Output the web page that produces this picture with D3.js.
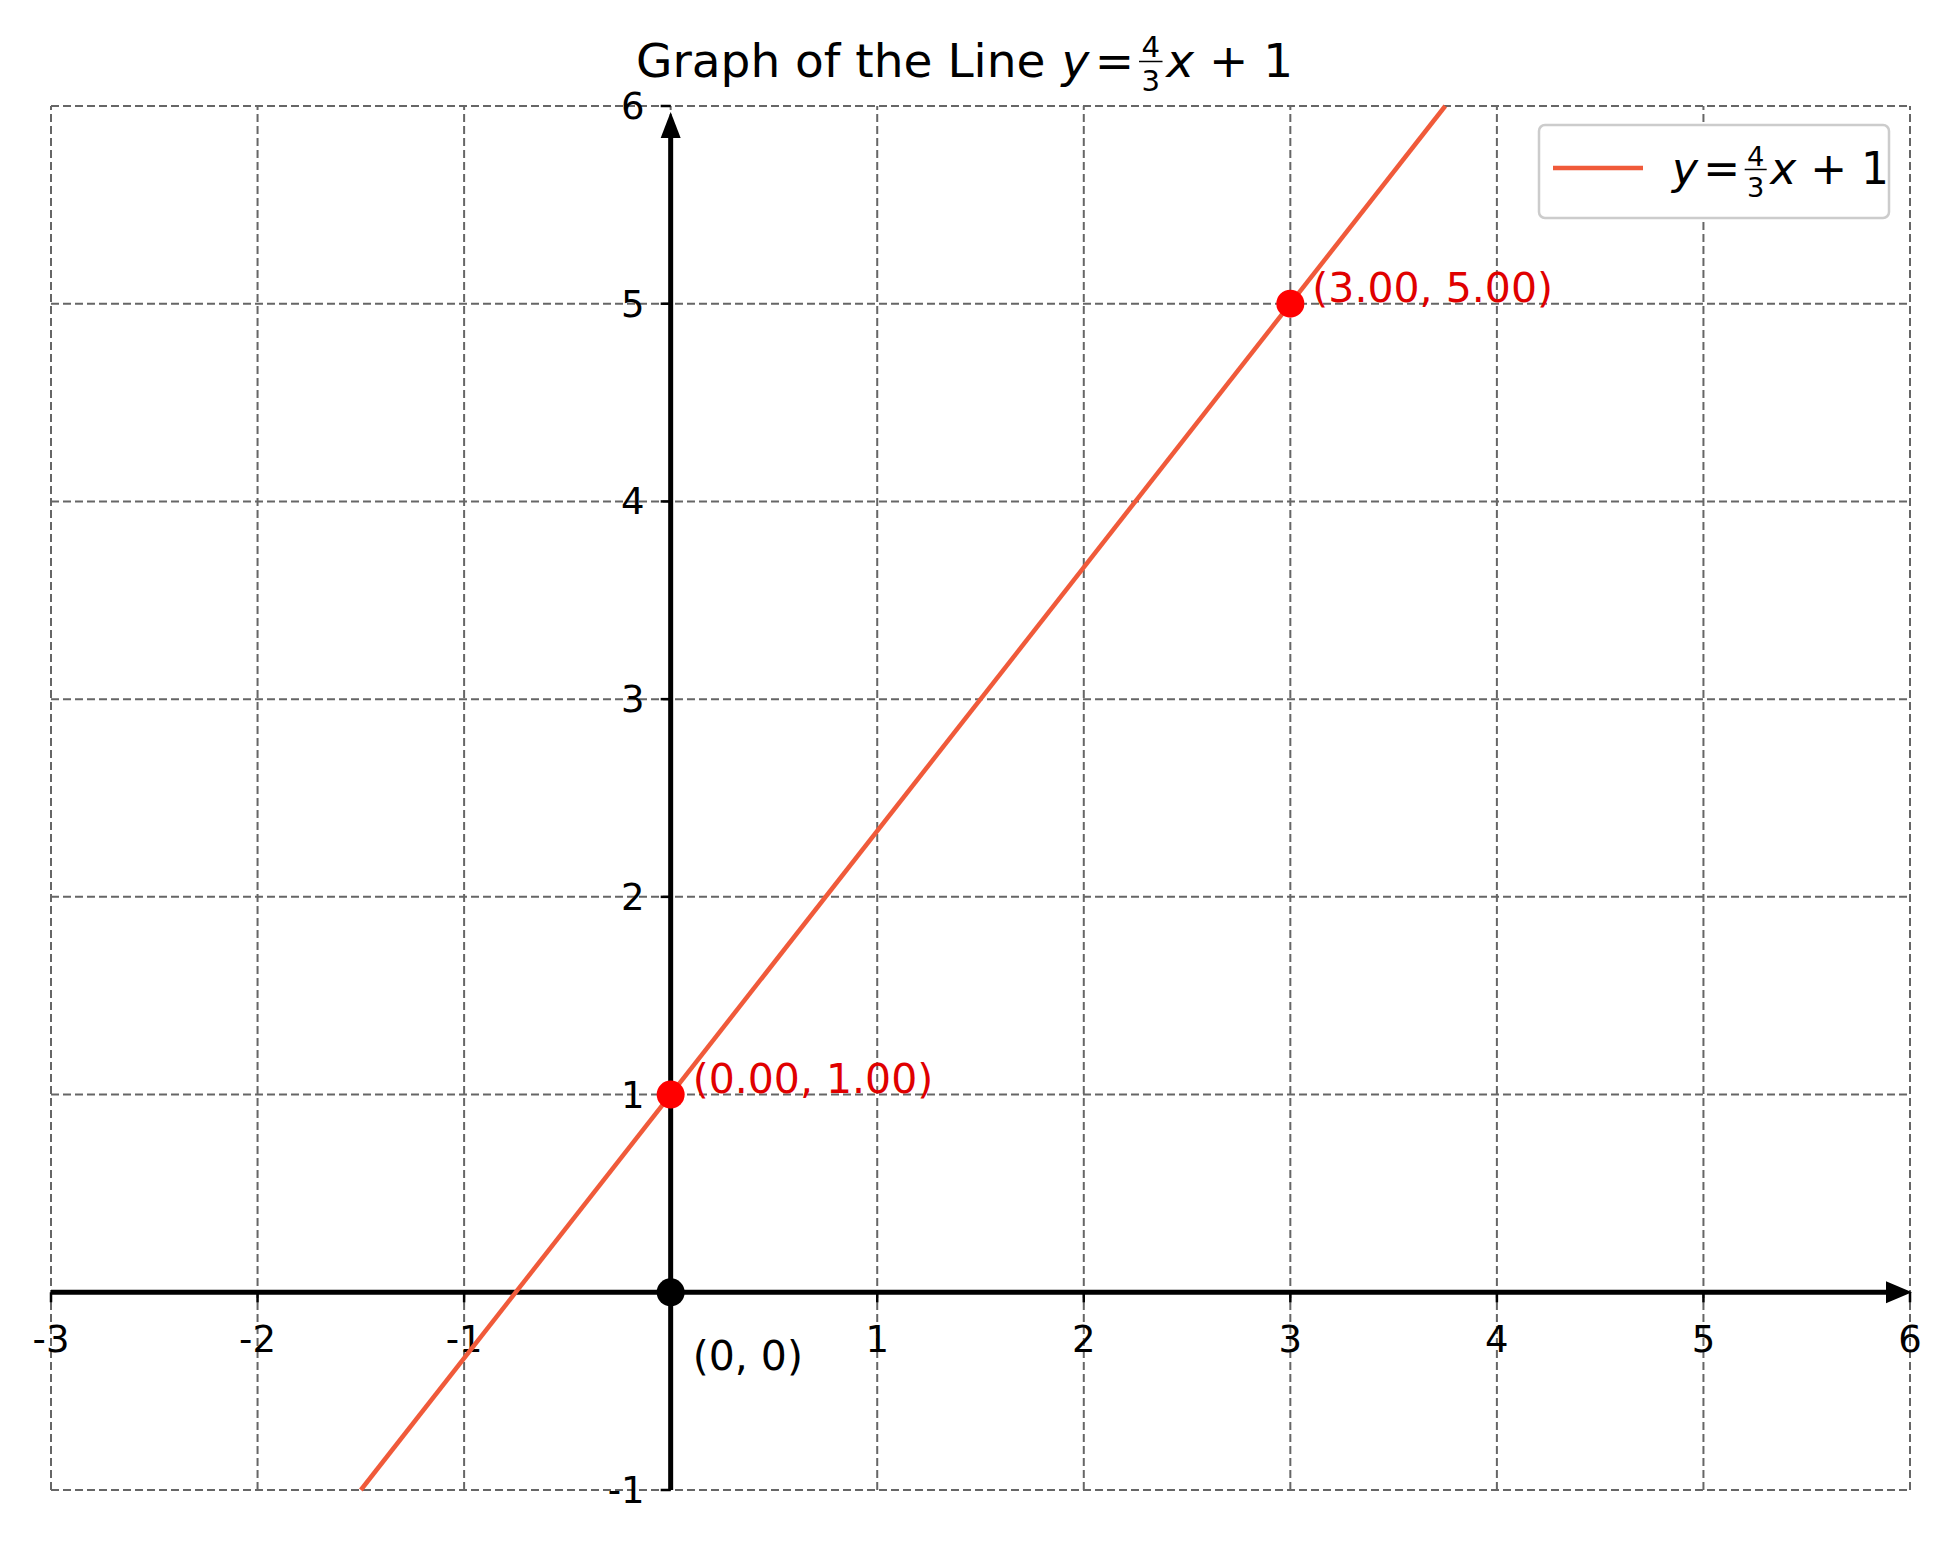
<!DOCTYPE html>
<html><head><meta charset="utf-8">
<script src="https://cdn.jsdelivr.net/npm/d3@7"></script>
<style>body{margin:0;background:#fff}text{font-family:"DejaVu Sans",sans-serif}</style>
</head><body><svg id="c" width="1954" height="1546"></svg>
<script>
const xTicks=[-3,-2,-1,0,1,2,3,4,5,6];
const yTicks=[-1,0,1,2,3,4,5,6];
const lineX=[-1.5,3.75];
const slope=4/3, intercept=1;
const points=[[0,1,"(0.00, 1.00)"],[3,5,"(3.00, 5.00)"]];
const origin=[0,0,"(0, 0)"];

const svg=d3.select("#c");
const x=d3.scaleLinear().domain([-3,6]).range([51,1910]);
const y=d3.scaleLinear().domain([-1,6]).range([1490,106]);

const g=svg.append("g");
xTicks.forEach(t=>g.append("line").attr("x1",x(t)).attr("x2",x(t)).attr("y1",y(-1)).attr("y2",y(6)));
yTicks.forEach(t=>g.append("line").attr("y1",y(t)).attr("y2",y(t)).attr("x1",x(-3)).attr("x2",x(6)));
g.selectAll("line").attr("stroke","#666").attr("stroke-width",2).attr("stroke-dasharray","8,4");

svg.append("line").attr("x1",x(-3)).attr("x2",x(6)-14).attr("y1",y(0)).attr("y2",y(0)).attr("stroke","#000").attr("stroke-width",5);
svg.append("line").attr("x1",x(0)).attr("x2",x(0)).attr("y1",y(-1)).attr("y2",y(6)+14).attr("stroke","#000").attr("stroke-width",5);
svg.append("path").attr("d",`M${x(6)+2},${y(0)} l-26,-11 l0,22z`).attr("fill","#000");
svg.append("path").attr("d",`M${x(0)},${y(6)+6} l-10,26 l20,0z`).attr("fill","#000");
xTicks.forEach(t=>{svg.append("line").attr("x1",x(t)).attr("x2",x(t)).attr("y1",y(0)).attr("y2",y(0)+10).attr("stroke","#000").attr("stroke-width",2.5);
 if(t!==0)svg.append("text").attr("x",x(t)).attr("y",y(0)+60).attr("text-anchor","middle").attr("font-size",37).text(t<0?"-"+Math.abs(t):t);});
yTicks.forEach(t=>{svg.append("line").attr("x1",x(0)-10).attr("x2",x(0)).attr("y1",y(t)).attr("y2",y(t)).attr("stroke","#000").attr("stroke-width",2.5);
 if(t!==0)svg.append("text").attr("x",x(0)-26).attr("y",y(t)+13).attr("text-anchor","end").attr("font-size",37).text(t<0?"-"+Math.abs(t):t);});

svg.append("path").datum(lineX).attr("d",d3.line().x(d=>x(d)).y(d=>y(slope*d+intercept))).attr("stroke","#f05a3a").attr("stroke-width",4.5).attr("fill","none");

points.forEach(p=>{svg.append("circle").attr("cx",x(p[0])).attr("cy",y(p[1])).attr("r",14).attr("fill","#ff0000");
 svg.append("text").attr("x",x(p[0])+22).attr("y",y(p[1])-2).attr("font-size",41).attr("fill","#e00000").text(p[2]);});
svg.append("circle").attr("cx",x(origin[0])).attr("cy",y(origin[1])).attr("r",14).attr("fill","#000");
svg.append("text").attr("x",x(0)+22).attr("y",y(0)+78).attr("font-size",41).text(origin[2]);

function eq(sel,xx,yy,fs){
 const t=sel.append("text").attr("x",xx).attr("y",yy).attr("font-size",fs);
 t.append("tspan").attr("font-style","italic").text("y");
 const w1=t.node().getComputedTextLength();
 sel.append("text").attr("x",xx+w1+fs*0.12).attr("y",yy).attr("font-size",fs).text("=");
 const fx=xx+w1+fs*0.12+fs*0.84+fs*0.1, fw=fs*0.5;
 sel.append("text").attr("x",fx+fw/2).attr("y",yy-fs*0.42).attr("text-anchor","middle").attr("font-size",fs*0.62).text("4");
 sel.append("text").attr("x",fx+fw/2).attr("y",yy+fs*0.3).attr("text-anchor","middle").attr("font-size",fs*0.62).text("3");
 sel.append("line").attr("x1",fx).attr("x2",fx+fw).attr("y1",yy-fs*0.33).attr("y2",yy-fs*0.33).attr("stroke","#000").attr("stroke-width",1.5);
 const t2=sel.append("text").attr("x",fx+fw+fs*0.08).attr("y",yy).attr("font-size",fs).attr("xml:space","preserve");
 t2.append("tspan").attr("font-style","italic").text("x");
 t2.append("tspan").text(" + 1");
}
const tt=svg.append("text").attr("x",636).attr("y",77).attr("font-size",47).text("Graph of the Line");
const tw=tt.node().getComputedTextLength();
eq(svg,636+tw+16,77,47);

svg.append("rect").attr("x",1539).attr("y",125).attr("width",350).attr("height",93).attr("rx",6).attr("fill","#fff").attr("stroke","#ccc").attr("stroke-width",2.5);
svg.append("line").attr("x1",1553).attr("x2",1643).attr("y1",168).attr("y2",168).attr("stroke","#f05a3a").attr("stroke-width",4.5);
eq(svg,1672,184,44);
</script></body></html>
